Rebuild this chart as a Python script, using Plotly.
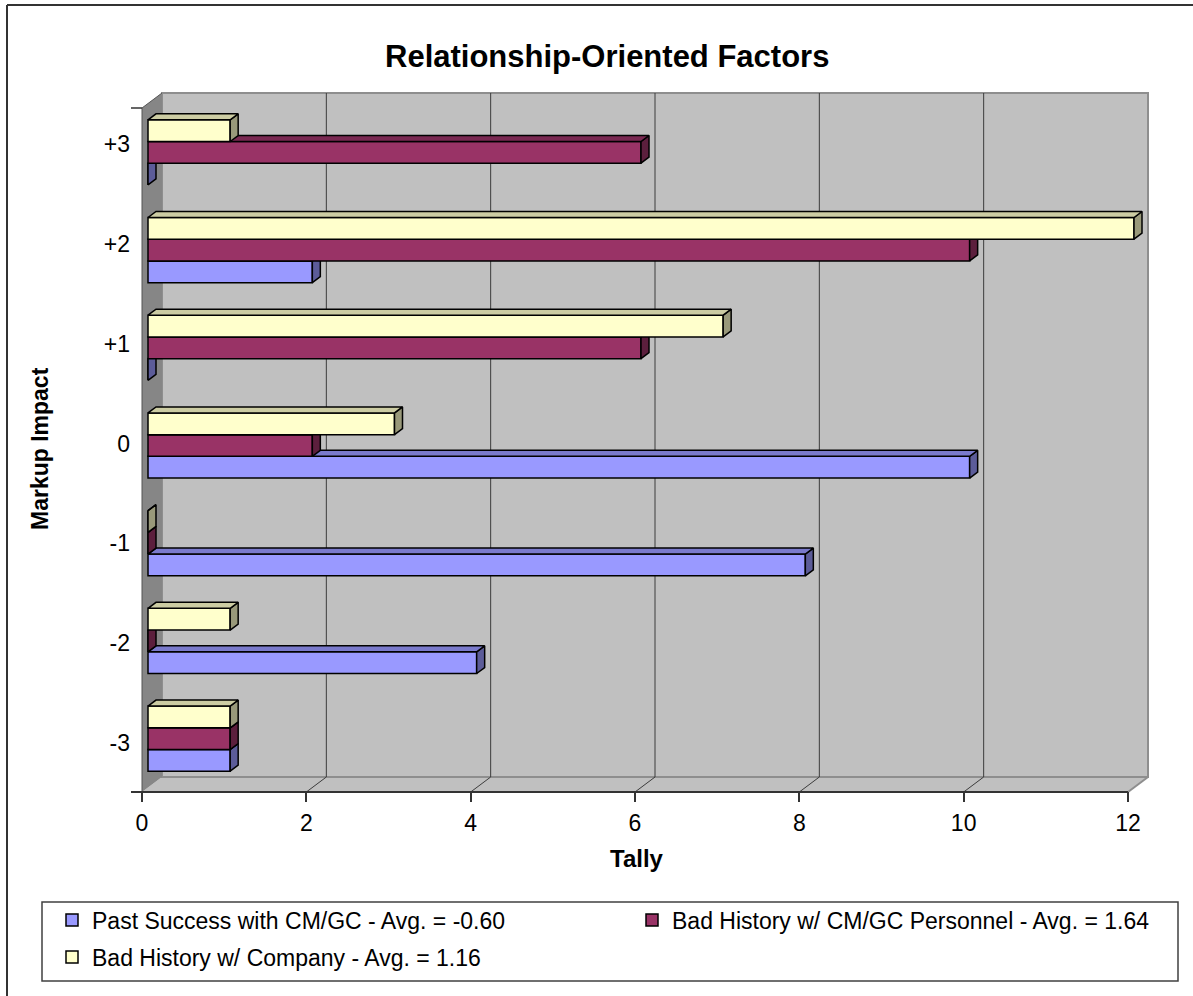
import plotly.graph_objects as go

# ---------------- data ----------------
impact_labels = ["-3", "-2", "-1", "0", "+1", "+2", "+3"]
past_success = [1, 4, 8, 10, 0, 2, 0]
bad_history_personnel = [1, 0, 0, 2, 6, 10, 6]
bad_history_company = [1, 1, 0, 3, 7, 12, 1]
series_labels = [
    "Past Success with CM/GC - Avg. = -0.60",
    "Bad History w/ CM/GC Personnel - Avg. = 1.64",
    "Bad History w/ Company - Avg. = 1.16",
]
tally_ticks = [0, 2, 4, 6, 8, 10, 12]

# ---------------- styling ----------------
FONT = "Liberation Sans, Arial, Helvetica, sans-serif"
front_colors = ["#9999FF", "#993366", "#FFFFCC"]
side_colors = ["#5C5C99", "#5C1F3D", "#99997A"]
top_colors = ["#7A7ACC", "#7A2952", "#CCCCA3"]
EDGE = "#000000"

W, H = 1193, 996
M_L, M_R, M_T, M_B = 131, 33, 90, 194
PLOT_W = W - M_L - M_R
PLOT_H = H - M_T - M_B


def px_x(px):
    return (px - M_L) / PLOT_W


def px_y(py):
    return (H - M_B - py) / PLOT_H


positions = list(range(len(impact_labels)))
X_MAX = tally_ticks[-1]
Y_LO, Y_HI = -0.5, len(impact_labels) - 0.5

# front plane of the 3-D box
X_RANGE = [-0.1339, 12.3895]
Y_RANGE = [-0.6023, 6.6842]

# depth of the box (data units); bars sit in the 30%..70% depth slice
WALL_DX, WALL_DY = 0.2434, 0.1535
SHIFT_X, SHIFT_Y = 0.3 * WALL_DX, 0.3 * WALL_DY
BAR_DX, BAR_DY = 0.4 * WALL_DX, 0.4 * WALL_DY
BAR_RANGE_X = [X_RANGE[0] - SHIFT_X, X_RANGE[1] - SHIFT_X]
BAR_RANGE_Y = [Y_RANGE[0] - SHIFT_Y, Y_RANGE[1] - SHIFT_Y]
# category labels are spread over the full depth of the box
LABEL_RANGE_Y = [-0.591, 6.541]

BAR_W = 1 / 4.5
OFFSETS = [-1.5 * BAR_W, -0.5 * BAR_W, 0.5 * BAR_W]


def face_paths(values, offset):
    """Side and top faces of every bar of a series."""
    sx, sy, tx, ty = [], [], [], []
    for k, v in zip(positions, values):
        yb = k + offset
        yt = yb + BAR_W
        sx += [v, v + BAR_DX, v + BAR_DX, v, v, None]
        sy += [yb, yb + BAR_DY, yt + BAR_DY, yt, yb, None]
        tx += [0, BAR_DX, v + BAR_DX, v, 0, None]
        ty += [yt, yt + BAR_DY, yt + BAR_DY, yt, yt, None]
    return sx, sy, tx, ty


fig = go.Figure()

series = [past_success, bad_history_personnel, bad_history_company]
y_axes = ["y2", "y3", "y4"]
legend_ids = ["legend", "legend2", "legend3"]

for i, vals in enumerate(series):
    fig.add_trace(go.Bar(
        x=vals, y=positions, orientation="h",
        width=BAR_W, offset=OFFSETS[i],
        name=series_labels[i],
        marker=dict(color=front_colors[i], line=dict(color=EDGE, width=1.5)),
        xaxis="x2", yaxis=y_axes[i], legend=legend_ids[i],
        hoverinfo="x+y",
    ))
    sx, sy, tx, ty = face_paths(vals, OFFSETS[i])
    fig.add_trace(go.Scatter(
        x=sx, y=sy, mode="lines", fill="toself", fillcolor=side_colors[i],
        line=dict(color=EDGE, width=1.5), showlegend=False, hoverinfo="skip",
        xaxis="x2", yaxis=y_axes[i],
    ))
    fig.add_trace(go.Scatter(
        x=tx, y=ty, mode="lines", fill="toself", fillcolor=top_colors[i],
        line=dict(color=EDGE, width=1.5), showlegend=False, hoverinfo="skip",
        xaxis="x2", yaxis=y_axes[i],
    ))

# empty trace that carries the category label axis
fig.add_trace(go.Scatter(x=[None], y=[None], xaxis="x2", yaxis="y5",
                         showlegend=False, hoverinfo="skip"))

# ---------------- walls of the 3-D box ----------------
shapes = []
floor_path = (f"M 0,{Y_LO} L {X_MAX},{Y_LO} L {X_MAX + WALL_DX},{Y_LO + WALL_DY} "
              f"L {WALL_DX},{Y_LO + WALL_DY} Z")
shapes.append(dict(type="path", path=floor_path, xref="x", yref="y",
                   fillcolor="#C0C0C0", line=dict(width=0), layer="below"))
shapes.append(dict(type="rect", xref="x", yref="y",
                   x0=WALL_DX, x1=X_MAX + WALL_DX, y0=Y_LO + WALL_DY, y1=Y_HI + WALL_DY,
                   fillcolor="#C0C0C0", line=dict(color="#8E8E8E", width=2), layer="below"))
side_path = (f"M 0,{Y_LO} L {WALL_DX},{Y_LO + WALL_DY} L {WALL_DX},{Y_HI + WALL_DY} "
             f"L 0,{Y_HI} Z")
shapes.append(dict(type="path", path=side_path, xref="x", yref="y",
                   fillcolor="#868686", line=dict(width=0), layer="below"))
for t in tally_ticks[1:-1]:
    shapes.append(dict(type="line", xref="x", yref="y",
                       x0=t + WALL_DX, x1=t + WALL_DX, y0=Y_LO + WALL_DY, y1=Y_HI + WALL_DY,
                       line=dict(color="#3C3C3C", width=1), layer="below"))
    shapes.append(dict(type="line", xref="x", yref="y",
                       x0=t, x1=t + WALL_DX, y0=Y_LO, y1=Y_LO + WALL_DY,
                       line=dict(color="#3C3C3C", width=1), layer="below"))
shapes.append(dict(type="line", xref="x", yref="y",
                   x0=X_MAX, x1=X_MAX + WALL_DX, y0=Y_LO, y1=Y_LO + WALL_DY,
                   line=dict(color="#8E8E8E", width=2), layer="below"))
shapes.append(dict(type="line", xref="x", yref="y",
                   x0=0, x1=WALL_DX, y0=Y_HI, y1=Y_HI + WALL_DY,
                   line=dict(color="#555555", width=1), layer="below"))
shapes.append(dict(type="line", xref="x", yref="y",
                   x0=0, x1=0, y0=Y_LO, y1=Y_HI,
                   line=dict(color="#555555", width=1), layer="below"))
shapes.append(dict(type="line", xref="x", yref="y",
                   x0=X_RANGE[0], x1=0, y0=Y_HI, y1=Y_HI,
                   line=dict(color="#333333", width=1.5), layer="below"))
shapes.append(dict(type="line", xref="x", yref="y",
                   x0=X_RANGE[0], x1=X_MAX, y0=Y_LO, y1=Y_LO,
                   line=dict(color="#333333", width=2), layer="below"))

# legend frame and outer chart frame
shapes.append(dict(type="rect", xref="paper", yref="paper",
                   x0=px_x(42), x1=px_x(1178), y0=px_y(981), y1=px_y(902),
                   line=dict(color="#404040", width=1.5), fillcolor="rgba(0,0,0,0)"))
shapes.append(dict(type="line", xref="paper", yref="paper",
                   x0=px_x(7), x1=px_x(1200), y0=px_y(5), y1=px_y(5),
                   line=dict(color="#333333", width=2)))
shapes.append(dict(type="line", xref="paper", yref="paper",
                   x0=px_x(7), x1=px_x(7), y0=px_y(5), y1=px_y(1000),
                   line=dict(color="#333333", width=2)))

tick_font = dict(family=FONT, size=23, color="black")
legend_common = dict(orientation="h", xanchor="left", yanchor="middle",
                     bgcolor="rgba(0,0,0,0)", borderwidth=0, itemwidth=30,
                     font=dict(family=FONT, size=23, color="black"))

fig.update_layout(
    width=W, height=H, autosize=False,
    margin=dict(l=M_L, r=M_R, t=M_T, b=M_B, pad=0),
    paper_bgcolor="white", plot_bgcolor="white",
    showlegend=True,
    xaxis=dict(range=X_RANGE, tickvals=tally_ticks, ticks="inside", ticklen=10,
               tickwidth=1.5, tickcolor="#333333", showgrid=False, zeroline=False,
               showline=False, tickfont=tick_font, ticklabelstandoff=5,
               anchor="y", fixedrange=True),
    yaxis=dict(range=Y_RANGE, visible=False, anchor="x", fixedrange=True),
    xaxis2=dict(range=BAR_RANGE_X, overlaying="x", anchor="y2", visible=False),
    yaxis2=dict(range=BAR_RANGE_Y, overlaying="y", anchor="x2", visible=False),
    yaxis3=dict(range=BAR_RANGE_Y, overlaying="y", anchor="x2", visible=False),
    yaxis4=dict(range=BAR_RANGE_Y, overlaying="y", anchor="x2", visible=False),
    yaxis5=dict(range=LABEL_RANGE_Y, overlaying="y", anchor="x2", tickvals=positions,
                ticktext=impact_labels, ticks="", showgrid=False, zeroline=False,
                showline=False, tickfont=tick_font, ticklabelstandoff=0),
    legend=dict(x=px_x(52), y=px_y(920), **legend_common),
    legend2=dict(x=px_x(632), y=px_y(920), **legend_common),
    legend3=dict(x=px_x(52), y=px_y(957), **legend_common),
    shapes=shapes,
    annotations=[
        dict(text="Relationship-Oriented Factors", xref="paper", yref="paper",
             x=px_x(607), y=px_y(57), xanchor="center", yanchor="middle",
             showarrow=False, font=dict(family=FONT, size=31, color="black", weight="bold")),
        dict(text="Markup Impact", xref="paper", yref="paper",
             x=px_x(40), y=px_y(449), xanchor="center", yanchor="middle", textangle=-90,
             showarrow=False, font=dict(family=FONT, size=23, color="black", weight="bold")),
        dict(text="Tally", xref="paper", yref="paper",
             x=px_x(637), y=px_y(858), xanchor="center", yanchor="middle",
             showarrow=False, font=dict(family=FONT, size=24, color="black", weight="bold")),
    ],
)

fig.write_html("out.html")
